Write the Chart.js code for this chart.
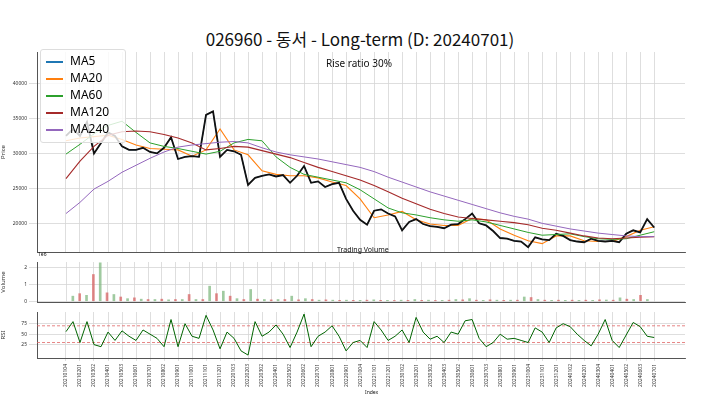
<!DOCTYPE html>
<html><head><meta charset="utf-8">
<script src="https://cdn.jsdelivr.net/npm/chart.js@4"></script>
<style>
body{margin:0;width:720px;height:404px;background:#fff;font-family:"Noto Sans CJK KR","Noto Sans",sans-serif;position:relative;overflow:hidden}
canvas{position:absolute}
.t{position:absolute;white-space:nowrap;color:#111}
#legend{position:absolute;left:40px;top:49px;width:84px;height:92px;background:rgba(255,255,255,0.8);border:1px solid #ddd;border-radius:3px;font-family:"Noto Sans";font-size:12px}
#legend div{position:absolute;left:5px;height:16px;line-height:16px}
#legend span{display:inline-block;width:17px;height:2px;vertical-align:middle;margin-right:7px}
</style></head><body>
<div class="t" style="left:0;width:720px;text-align:center;top:26px;font-size:17px">026960 - 동서 - Long-term (D: 20240701)</div>
<canvas id="c1" style="left:0;top:47px"></canvas>
<canvas id="c2" style="left:0;top:257px"></canvas>
<canvas id="c3" style="left:0;top:307px"></canvas>
<div class="t" style="left:326px;top:56px;font-size:10px;font-family:'Noto Sans'">Rise ratio 30%</div>
<div class="t" style="left:337px;top:245px;font-size:7px;font-family:'Noto Sans'">Trading Volume</div>
<div class="t" style="left:38px;top:251px;font-size:5px;font-family:'Noto Sans'">1e6</div>
<div class="t" style="left:365px;top:389px;font-size:5px;font-family:'Noto Sans'">Index</div>
<div id="legend"></div>
<script>
// x unit: month index (0 = 20210104 ... 42 = 20240701)
const dateLabels=["20210104","20210201","20210302","20210401","20210503","20210601","20210701","20210802","20210901","20211001","20211101","20211201","20220103","20220203","20220302","20220401","20220502","20220602","20220701","20220801","20220901","20221004","20221101","20221201","20230102","20230201","20230302","20230403","20230502","20230601","20230703","20230801","20230901","20231004","20231101","20231201","20240102","20240201","20240304","20240401","20240502","20240603","20240701"];
const halfStep=0.5; // price, volume, RSI sampled twice a month
const closePrice=[32500,33500,32500,34500,30000,31500,33000,32500,31000,30500,30500,30800,30200,30000,30800,32300,29200,29500,29600,29500,35500,36000,29500,30500,30300,29800,25500,26500,26800,27000,26700,26900,25800,26800,28200,25800,26000,25200,25600,25800,23500,21800,20500,19800,21800,22000,21400,21000,19000,20200,20600,19900,19600,19500,19300,19800,19900,20600,21400,20000,19700,18900,17900,17800,17500,17400,16600,18000,17700,17600,18500,18200,17600,17400,17300,17800,17500,17400,17500,17300,18500,19000,18700,20600,19400];
const ma5=closePrice;
const ma20=[31800,32200,32400,32600,32000,31200,30700,30600,30500,29600,30500,33500,30500,29800,27500,27000,26800,26800,26500,25900,25400,23500,20800,21200,21700,20500,19900,19700,19700,20700,20500,19200,18300,17500,17100,18200,18200,17500,17400,17400,18100,19000,19500];
const ma60=[29900,31300,32800,34000,34600,33000,31500,31000,30700,30300,29900,30300,31500,32000,31800,29500,28000,27000,26600,26200,25800,24800,23500,22200,21500,21200,20800,20500,20300,20500,20200,19700,19200,18700,18300,18400,18500,18100,17800,17700,17800,18300,18800];
const ma120=[26400,28900,31000,32600,33100,33200,33100,32700,32200,31500,30500,30700,31000,30900,30400,29900,29400,28700,28000,27400,26800,26200,25400,24500,23600,22800,22000,21400,20900,20700,20500,20300,20100,19800,19300,19000,18600,18200,17900,17800,17900,18000,18100];
const ma240=[21400,23000,24900,26000,27300,28300,29300,30200,30900,31200,31400,31600,31700,31500,30800,30200,29800,29500,29200,28800,28400,28000,27400,26600,25900,25200,24500,23900,23300,22700,22100,21500,21000,20600,20000,19600,19200,18900,18600,18400,18200,18100,18100];
const volumeM=[0.3,0.45,0.35,1.6,2.3,0.5,0.4,0.25,0.15,0.2,0.12,0.1,0.1,0.12,0.08,0.1,0.1,0.4,0.1,0.1,0.9,0.45,0.6,0.3,0.15,0.1,0.7,0.12,0.1,0.08,0.1,0.1,0.3,0.08,0.15,0.1,0.06,0.08,0.06,0.05,0.06,0.05,0.05,0.06,0.08,0.05,0.05,0.04,0.06,0.05,0.1,0.05,0.06,0.04,0.05,0.06,0.1,0.08,0.15,0.06,0.05,0.08,0.06,0.05,0.06,0.06,0.25,0.22,0.1,0.06,0.05,0.06,0.05,0.06,0.05,0.06,0.05,0.08,0.07,0.06,0.2,0.12,0.1,0.35,0.1];
const rsi=[56,80,30,80,25,20,55,35,58,45,35,60,50,40,20,85,20,75,45,40,95,60,15,55,40,10,0,80,45,55,72,50,18,55,98,20,45,55,70,45,10,30,35,18,80,60,35,45,60,30,90,55,38,45,30,55,50,82,85,40,20,30,50,38,40,35,30,65,55,30,65,75,68,50,35,22,50,85,35,18,48,78,68,45,42];
const rsiBands=[70,30];

const half=a=>a.map((v,i)=>({x:i*halfStep,y:v}));
const monthly=a=>a.map((v,i)=>({x:i,y:v}));
const X0=-2.07,X1=44.2;
const grid={color:'#d6d6d6',lineWidth:0.8};
function xAxis(showLabels,h){return{type:'linear',min:X0,max:X1,afterBuildTicks:s=>{s.ticks=dateLabels.map((_,i)=>({value:i}));},
 grid:{...grid,drawTicks:showLabels,tickLength:3},border:{color:'#555'},
 ticks:{display:showLabels,autoSkip:false,maxRotation:90,minRotation:90,font:{size:5,family:'Noto Sans'},color:'#333',callback:v=>dateLabels[v]},
 afterFit:s=>{s.height=h;}};}
function yAxis(min,max,ticks,title,fmt){return{min,max,afterBuildTicks:s=>{s.ticks=ticks.map(v=>({value:v}));},
 grid,border:{color:'#555'},title:{display:true,text:title,font:{size:6,family:'Noto Sans'},color:'#333',padding:0},
 ticks:{font:{size:5,family:'Noto Sans'},color:'#333',padding:2,callback:fmt||(v=>v)},afterFit:s=>{s.width=37;}};}
const base={responsive:false,animation:false,events:[],layout:{padding:{left:0,right:35,top:0,bottom:0}},plugins:{legend:{display:false},tooltip:{enabled:false}}};
function mk(id,h,data,scales){const c=document.getElementById(id);c.width=720;c.height=h;c.style.width='720px';c.style.height=h+'px';
 return new Chart(c,{data,options:{...base,scales}});}
const line=(label,d,color,w)=>({type:'line',label,data:d,borderColor:color,borderWidth:w,pointRadius:0,tension:0});
const series=[['MA5','#1f77b4'],['MA20','#ff7f0e'],['MA60','#2ca02c'],['MA120','#a52a2a'],['MA240','#9467bd']];
mk('c1',210,{datasets:[
 line('MA240',monthly(ma240),'#9467bd',1),
 line('MA120',monthly(ma120),'#a52a2a',1.1),
 line('MA60',monthly(ma60),'#2ca02c',1),
 line('Price',half(closePrice),'#111',1.8),
 line('MA5',half(ma5),'#1f77b4',0.9),
 line('MA20',monthly(ma20),'#ff7f0e',1.1)]},
 {x:xAxis(false,0),y:yAxis(15900,44500,[20000,25000,30000,35000,40000],'Price')});
mk('c2',50,{datasets:[{type:'bar',data:half(volumeM),backgroundColor:volumeM.map((_,i)=>i%2?'rgba(214,90,90,0.7)':'rgba(120,180,120,0.7)'),barThickness:2}]},
 {x:xAxis(false,0),y:yAxis(-0.05,2.35,[0,1,2],'Volume')});
mk('c3',97,{datasets:[
 line('RSI',half(rsi),'#006400',1),
 ...rsiBands.map(b=>({type:'line',data:[{x:X0,y:b},{x:X1,y:b}],borderColor:'#e06666',borderWidth:0.8,borderDash:[3,2],pointRadius:0}))]},
 {x:xAxis(true,46),y:yAxis(-7,103,[25,50,75],'RSI')});
document.getElementById('legend').innerHTML=series.map((s,i)=>`<div style="top:${3+i*17}px"><span style="background:${s[1]}"></span>${s[0]}</div>`).join('');
</script></body></html>
